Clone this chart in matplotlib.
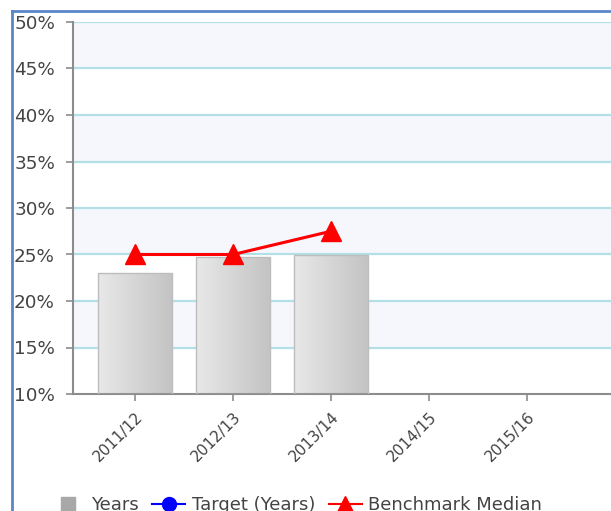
import numpy as np
import matplotlib
matplotlib.use("Agg")
import matplotlib.pyplot as plt
from matplotlib.lines import Line2D
from matplotlib.patches import Rectangle

# data
years = ["2011/12", "2012/13", "2013/14", "2014/15", "2015/16"]
years_vals = [23.0, 24.7, 25.0]
target_vals = []
benchmark_vals = [25.0, 25.0, 27.5]
y_ticks = [10, 15, 20, 25, 30, 35, 40, 45, 50]

W, H = 611, 511
fig = plt.figure(figsize=(W / 100, H / 100), dpi=100)
plt.rcParams['font.family'] = 'DejaVu Sans'

# axes extends past the right edge (chart is cropped in the reference)
left_px, right_px, top_px, bot_px = 73, 640, 22, 394
ax = fig.add_axes([left_px / W, 1 - bot_px / H,
                   (right_px - left_px) / W, (bot_px - top_px) / H])
ax.set_xlim(-0.633, (right_px - 135) / 98.0)
ax.set_ylim(10, 50)

# alternating bands + grid
for lo in range(15, 50, 10):
    ax.axhspan(lo, lo + 5, color='#f5f7fd', zorder=0, lw=0)
for t in y_ticks[1:]:
    ax.axhline(t, color='#b3dfe6', lw=1.6, zorder=1)

# bars with a horizontal gray gradient
grad = np.linspace(0, 1, 64).reshape(1, -1)
cmap = matplotlib.colors.LinearSegmentedColormap.from_list('g', ['#e8e8e8', '#c4c4c4'])
bw = 0.755
for i, v in enumerate(years_vals):
    x0 = i - bw / 2
    im = ax.imshow(grad, extent=[x0, x0 + bw, 10, v], aspect='auto',
                   cmap=cmap, zorder=2, interpolation='bilinear')
    r = Rectangle((x0, 10), bw, v - 10, fc='none', ec='#bdbdbd', lw=1, zorder=3)
    ax.add_patch(r)
    im.set_clip_path(r)

ax.plot(range(len(benchmark_vals)), benchmark_vals, color='red', lw=2.2,
        marker='^', ms=15, zorder=5, clip_on=False)

for s in ['top', 'right']:
    ax.spines[s].set_visible(False)
for s in ['left', 'bottom']:
    ax.spines[s].set_color('#8c8c8c')
    ax.spines[s].set_linewidth(1.5)

ax.set_yticks(y_ticks)
ax.set_yticklabels([f"{t}%" for t in y_ticks], fontsize=13.2, color='#444444')
ax.set_xticks(range(len(years)))
ax.set_xticklabels(years, rotation=45, ha='right', rotation_mode='anchor',
                   fontsize=11, color='#444444')
ax.tick_params(axis='both', colors='#8c8c8c', length=5, width=1.2, labelcolor='#444444')
ax.tick_params(axis='y', pad=8)
ax.tick_params(axis='x', pad=6)

# legend
handles = [
    Line2D([], [], ls='none', marker='s', ms=10, color='#a8a8a8'),
    Line2D([], [], color='blue', lw=1.5, marker='o', ms=10),
    Line2D([], [], color='red', lw=1.5, marker='^', ms=11),
]
fig.legend(handles, ["Years", "Target (Years)", "Benchmark Median"],
           loc='center left', bbox_to_anchor=(51 / W, 1 - 505 / H), ncol=3,
           frameon=False, fontsize=13, handlelength=1.85, handletextpad=0.35,
           columnspacing=0.75, borderpad=0, borderaxespad=0, labelcolor='#444444')

# outer blue frame
fig.add_artist(Line2D([11.5 / W, 11.5 / W], [0, 1 - 11 / H], transform=fig.transFigure,
                      color='#5b86c6', lw=2))
fig.add_artist(Line2D([11.5 / W, 1], [1 - 11 / H, 1 - 11 / H], transform=fig.transFigure,
                      color='#5b86c6', lw=2))

fig.savefig("out.png", dpi=100)
